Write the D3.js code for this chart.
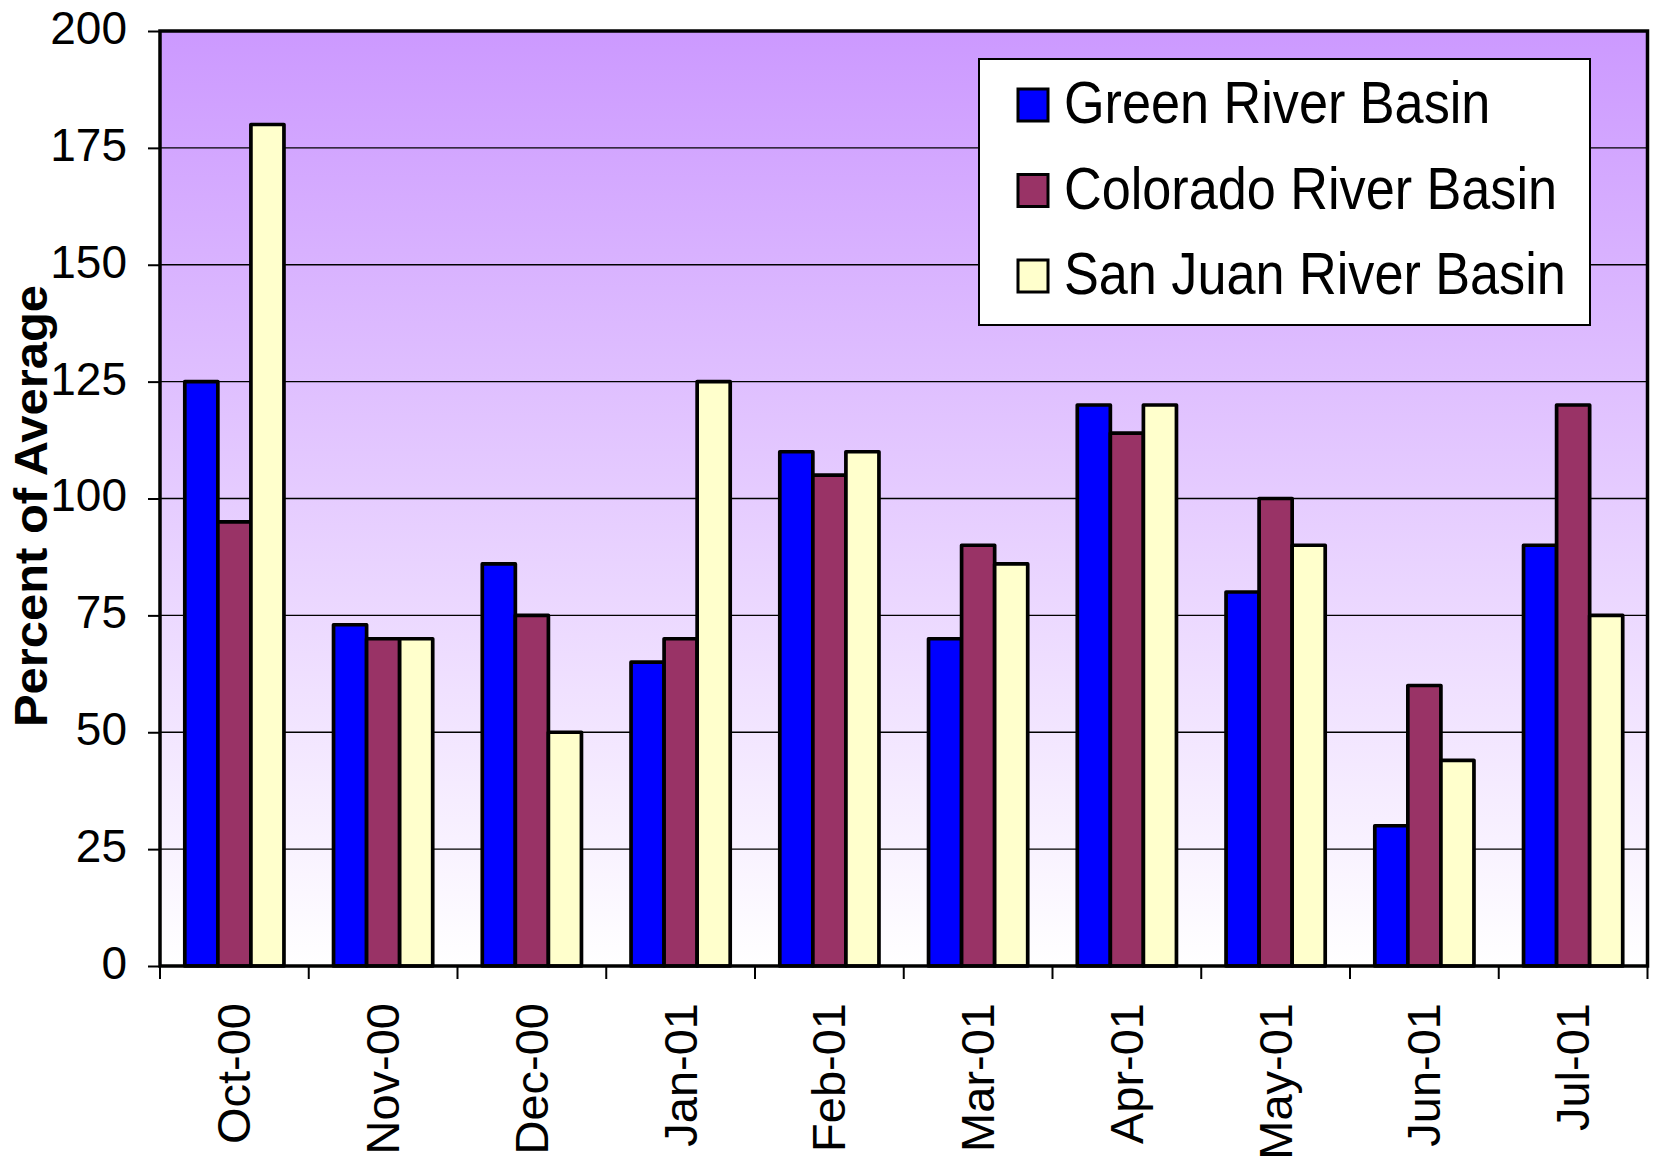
<!DOCTYPE html>
<html>
<head>
<meta charset="utf-8">
<script src="https://cdn.jsdelivr.net/npm/d3@7"></script>
<style>
  body { margin: 0; background: #fff; }
  svg { display: block; font-family: "Liberation Sans", Arial, sans-serif; }
</style>
</head>
<body>
<div id="chart"></div>
<script>
// data
const months = ["Oct-00", "Nov-00", "Dec-00", "Jan-01", "Feb-01", "Mar-01", "Apr-01", "May-01", "Jun-01", "Jul-01"]
const seriesNames = ["Green River Basin", "Colorado River Basin", "San Juan River Basin"]
const greenRiver = [125, 73, 86, 65, 110, 70, 120, 80, 30, 90]
const coloradoRiver = [95, 70, 75, 70, 105, 90, 114, 100, 60, 120]
const sanJuanRiver = [180, 70, 50, 125, 110, 86, 120, 90, 44, 75]
const yTicks = [0, 25, 50, 75, 100, 125, 150, 175, 200]
const seriesColors = ["#0000ff", "#993366", "#ffffcc"]

const seriesValues = [greenRiver, coloradoRiver, sanJuanRiver]

// dimensions
const width = 1653
const height = 1156
const plot = { left: 160, top: 31, right: 1647.5, bottom: 966 }

const svg = d3.select("#chart")
  .append("svg")
    .attr("width", width)
    .attr("height", height)

// scales
const x = d3.scaleBand()
    .domain(months)
    .range([plot.left, plot.right])

const y = d3.scaleLinear()
    .domain([0, 200])
    .range([plot.bottom, plot.top])

// excel style: gap width 150% of a bar
const seriesBand = d3.scaleBand()
    .domain(seriesNames)
    .range([x.bandwidth() * 0.75 / 4.5, x.bandwidth() * 3.75 / 4.5])

// background gradient
const defs = svg.append("defs")
const grad = defs.append("linearGradient")
    .attr("id", "bg-grad")
    .attr("x1", 0).attr("y1", 0)
    .attr("x2", 0).attr("y2", 1)
grad.append("stop").attr("offset", "0%").attr("stop-color", "#cc99ff")
grad.append("stop").attr("offset", "100%").attr("stop-color", "#ffffff")

svg.append("rect")
    .attr("x", plot.left)
    .attr("y", plot.top)
    .attr("width", plot.right - plot.left)
    .attr("height", plot.bottom - plot.top)
    .attr("fill", "url(#bg-grad)")

// gridlines
svg.append("g")
  .selectAll("line")
  .data(yTicks.filter(d => d > 0 && d < 200))
  .join("line")
    .attr("x1", plot.left)
    .attr("x2", plot.right)
    .attr("y1", d => y(d))
    .attr("y2", d => y(d))
    .attr("stroke", "#000")
    .attr("stroke-width", 1.3)

// bars
const rows = months.map((m, i) => ({ month: m, values: seriesNames.map((s, j) => ({ series: s, j, value: seriesValues[j][i] })) }))

svg.append("g")
  .selectAll("g")
  .data(rows)
  .join("g")
    .attr("transform", d => `translate(${x(d.month)},0)`)
  .selectAll("rect")
  .data(d => d.values)
  .join("rect")
    .attr("x", d => seriesBand(d.series))
    .attr("width", seriesBand.bandwidth())
    .attr("y", d => y(d.value))
    .attr("height", d => y(0) - y(d.value))
    .attr("fill", d => seriesColors[d.j])
    .attr("stroke", "#000")
    .attr("stroke-width", 3.7)
    .attr("stroke-linejoin", "round")

// plot border
svg.append("rect")
    .attr("x", plot.left)
    .attr("y", plot.top)
    .attr("width", plot.right - plot.left)
    .attr("height", plot.bottom - plot.top)
    .attr("fill", "none")
    .attr("stroke", "#000")
    .attr("stroke-width", 3.5)

// y axis
const yAxis = svg.append("g")
    .attr("transform", `translate(${plot.left},0)`)
    .call(d3.axisLeft(y).tickValues(yTicks).tickSize(12).tickPadding(21))
yAxis.select(".domain").remove()
yAxis.selectAll(".tick line").attr("stroke-width", 2)
yAxis.selectAll(".tick text")
    .attr("font-size", 46)
    .attr("font-family", "Liberation Sans, Arial, sans-serif")
    .attr("fill", "#000")
    .attr("dy", "0.27em")

// x ticks at category boundaries
const boundaries = months.map(m => x(m)).concat([plot.right])
svg.append("g")
  .selectAll("line")
  .data(boundaries)
  .join("line")
    .attr("x1", d => d)
    .attr("x2", d => d)
    .attr("y1", plot.bottom)
    .attr("y2", plot.bottom + 13)
    .attr("stroke", "#000")
    .attr("stroke-width", 2)

svg.append("g")
  .selectAll("text")
  .data(months)
  .join("text")
    .attr("transform", d => `translate(${x(d) + x.bandwidth() / 2 + 16},${plot.bottom + 37}) rotate(-90)`)
    .attr("text-anchor", "end")
    .attr("font-size", 47)
    .text(d => d)

// y title
svg.append("text")
    .attr("transform", "translate(47,506) rotate(-90)")
    .attr("text-anchor", "middle")
    .attr("font-size", 47)
    .attr("font-weight", "bold")
    .attr("textLength", 442)
    .attr("lengthAdjust", "spacingAndGlyphs")
    .text("Percent of Average")

// legend
const legend = svg.append("g")
legend.append("rect")
    .attr("x", 979)
    .attr("y", 59)
    .attr("width", 611)
    .attr("height", 266)
    .attr("fill", "#fff")
    .attr("stroke", "#000")
    .attr("stroke-width", 2)

const legendRow = d3.scalePoint()
    .domain(seriesNames)
    .range([105, 276])

const items = legend.selectAll("g.item")
  .data(seriesNames)
  .join("g")
    .attr("class", "item")
    .attr("transform", d => `translate(0,${legendRow(d)})`)

items.append("rect")
    .attr("x", 1018)
    .attr("y", -16)
    .attr("width", 30)
    .attr("height", 32)
    .attr("fill", (d, i) => seriesColors[i])
    .attr("stroke", "#000")
    .attr("stroke-width", 3)

items.append("text")
    .attr("transform", "translate(1064,18) scale(0.87,1)")
    .attr("font-size", 60)
    .text(d => d)
</script>
</body>
</html>
